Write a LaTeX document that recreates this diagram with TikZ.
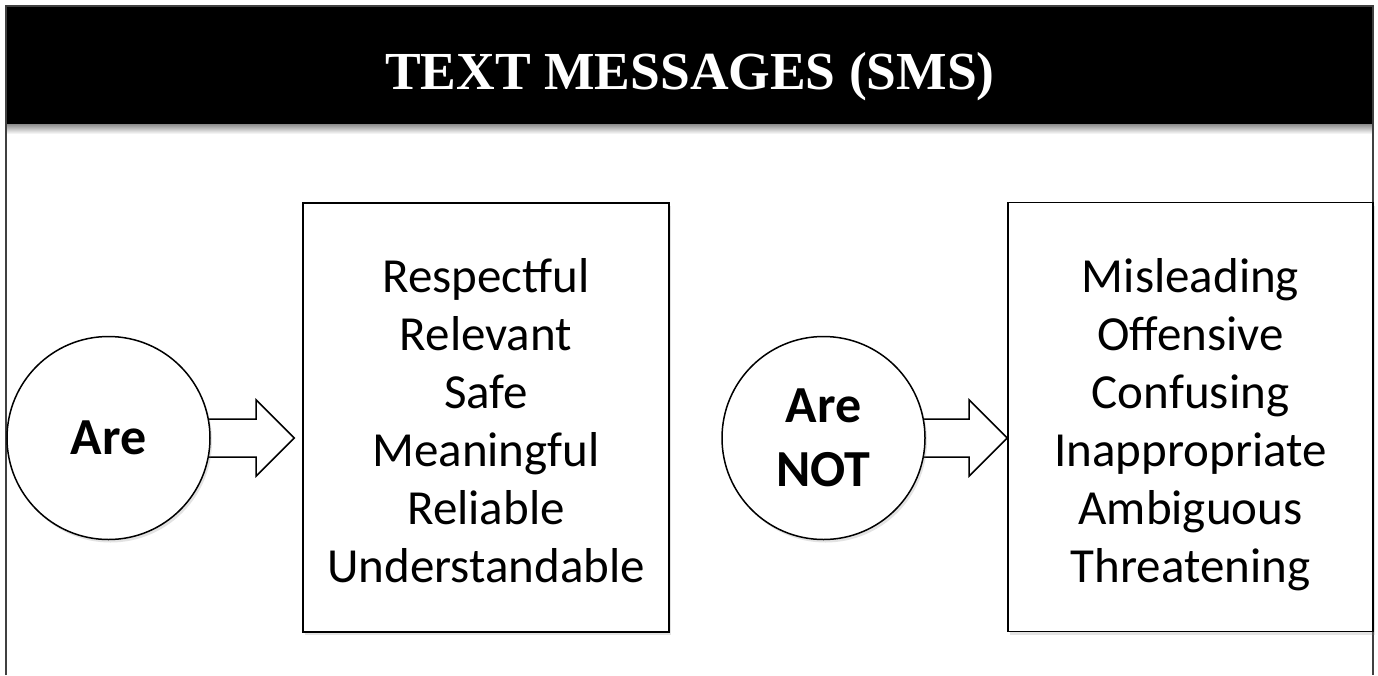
\documentclass[tikz,border=0pt]{standalone}
\usepackage{fontspec}
\setmainfont{Carlito}
\newfontfamily\titlefont{Liberation Serif}
\usetikzlibrary{calc,shadows,backgrounds}
\newcommand{\blockarr}[2]{%
  \draw[barrow] let \p1=(#1),\p2=(#2) in
    (\x1,\y1+19pt) -- (\x2-38pt,\y1+19pt) -- (\x2-38pt,\y1+38pt) -- (\x2,\y1)
    -- (\x2-38pt,\y1-38pt) -- (\x2-38pt,\y1-19pt) -- (\x1,\y1-19pt) -- cycle;}
\begin{document}
\begin{tikzpicture}[x=1pt,y=-1pt,
  frameline/.style={draw=black!75,line width=2.2pt},
  softshadow/.style={drop shadow={shadow xshift=2pt,shadow yshift=-3pt,opacity=0.22}},
  listbox/.style={draw=black,line width=1.6pt,fill=white,minimum width=366pt,
    minimum height=429pt,inner sep=0pt,softshadow},
  listtext/.style={inner sep=0pt,align=center,font=\fontsize{49}{58}\selectfont},
  circ/.style={circle,draw=black,line width=1.5pt,fill=white,minimum size=203pt,
    inner sep=0pt,align=center,font=\bfseries\fontsize{52}{64}\selectfont,softshadow},
  barrow/.style={draw=black,line width=1.5pt,fill=white,line join=miter},
  titletext/.style={text=white,font=\titlefont\bfseries\fontsize{53.5}{60}\selectfont,anchor=base,inner sep=0pt}]
\useasboundingbox (0,0) rectangle (1378,675);
% header
\fill[black] (6,6) rectangle (1373,124);
\shade[top color=black!45,bottom color=white] (7,124) rectangle (1372,134);
\node[titletext] (title) at (690,89) {TEXT MESSAGES (SMS)};
\draw[frameline] (6,675) -- (6,6) -- (1373,6) -- (1373,675);
% nodes
\node[circ] (c1) at (108.5,438) {Are};
\node[listbox] (b1) at (486,417.5) {};
\node[listtext] (b1t) at (486,425) {\vphantom{Mf}Respectful\\Relevant\\Safe\\Meaningful\\Reliable\\Understandable\vphantom{g}};
\node[circ] (c2) at (823.5,438) {Are\\NOT};
\node[listbox,minimum width=365pt] (b2) at (1190.5,417) {};
\node[listtext] (b2t) at (1190.5,425) {\vphantom{Mf}Misleading\\Offensive\\Confusing\\Inappropriate\\Ambiguous\\Threatening\vphantom{g}};
% arrows behind circles
\begin{scope}[on background layer]
\fill[white] (0,0) rectangle (1378,675);
\coordinate (t1) at ($(c1 -| b1.west)+(-8,0)$);
\coordinate (t2) at (c2 -| b2.west);
\blockarr{c1.center}{t1}
\blockarr{c2.center}{t2}
\end{scope}
\end{tikzpicture}
\end{document}
